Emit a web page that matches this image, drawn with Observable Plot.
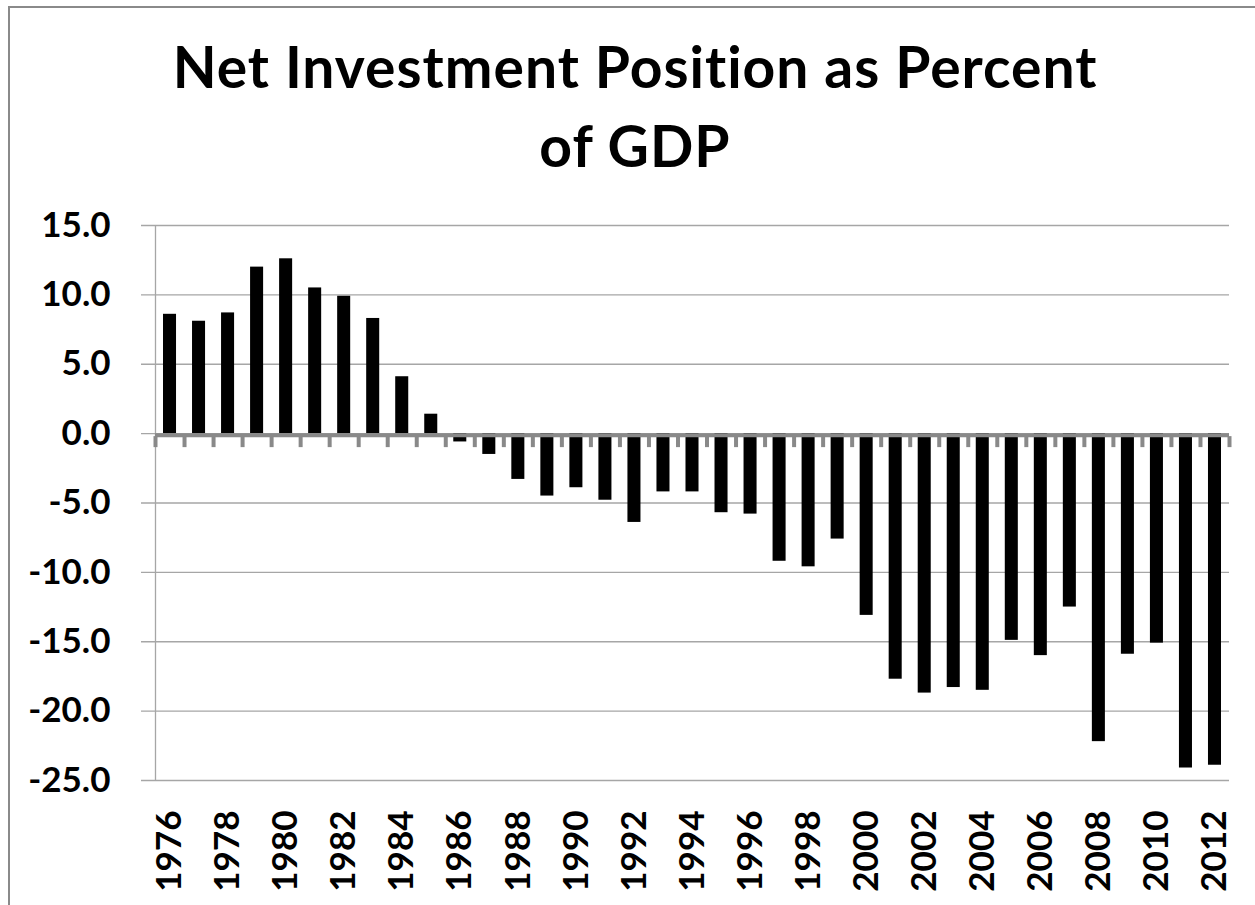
<!DOCTYPE html>
<html><head><meta charset="utf-8">
<script src="https://cdn.jsdelivr.net/npm/d3@7"></script>
<script src="https://cdn.jsdelivr.net/npm/@observablehq/plot@0.6"></script>
<style>
html,body{margin:0;padding:0;background:#fff;overflow:hidden;width:1255px;height:905px;}
#frame{position:absolute;left:8px;top:6px;width:1400px;height:1000px;border-left:2px solid #8a8a8a;border-top:2px solid #8a8a8a;box-sizing:border-box;pointer-events:none;}
#title{height:190px;box-sizing:border-box;padding-top:27px;padding-left:15px;text-align:center;font-family:Lato, sans-serif;font-weight:700;font-size:57px;letter-spacing:1px;line-height:79px;color:#000;white-space:nowrap;}
#chart svg{display:block;}
</style></head><body>
<div id="title">Net Investment Position as Percent<br>of GDP</div>
<div id="chart"></div>
<div id="frame"></div>
<script>
const years = [1976,1977,1978,1979,1980,1981,1982,1983,1984,1985,1986,1987,1988,1989,1990,1991,1992,1993,1994,1995,1996,1997,1998,1999,2000,2001,2002,2003,2004,2005,2006,2007,2008,2009,2010,2011,2012];
const values = [8.6,8.1,8.7,12.0,12.6,10.5,9.9,8.3,4.1,1.4,-0.6,-1.5,-3.3,-4.5,-3.9,-4.8,-6.4,-4.2,-4.2,-5.7,-5.8,-9.2,-9.6,-7.6,-13.1,-17.7,-18.7,-18.3,-18.5,-14.9,-16.0,-12.5,-22.2,-15.9,-15.1,-24.1,-23.9];
const yTicks = [-25,-20,-15,-10,-5,0,5,10,15];
const xTickYears = [1976,1978,1980,1982,1984,1986,1988,1990,1992,1994,1996,1998,2000,2002,2004,2006,2008,2010,2012];

const data = years.map((year, i) => ({year, value: values[i]}));
const bounds = years.map(y => y - 0.5).concat([years[years.length - 1] + 0.5]);

const chart = Plot.plot({
  width: 1255, height: 715,
  marginTop: 35, marginBottom: 125, marginLeft: 155, marginRight: 26,
  style: {fontFamily: "Lato, sans-serif", fontSize: "35px", fontWeight: 700, color: "#000", background: "transparent", overflow: "visible"},
  x: {type: "linear", domain: [years[0] - 0.5, years[years.length - 1] + 0.5]},
  y: {domain: [-25, 15]},
  marks: [
    Plot.ruleY(yTicks, {stroke: "#a6a6a6", strokeWidth: 1.3, insetLeft: -14}),
    Plot.ruleX([years[0] - 0.5], {y1: -25, y2: 15, stroke: "#a6a6a6", strokeWidth: 1.3}),
    Plot.rect(data, {x1: d => d.year - 0.5, x2: d => d.year + 0.5, y1: 0, y2: "value", fill: "#000", insetLeft: 8, insetRight: 8}),
    Plot.ruleY([0], {stroke: "#898989", strokeWidth: 4, dy: 1.5}),
    Plot.ruleX(bounds, {y1: 0, y2: 0, stroke: "#898989", strokeWidth: 4, insetTop: 3, insetBottom: -14}),
    Plot.axisY({ticks: yTicks, tickFormat: d => d.toFixed(1), tickSize: 0, tickPadding: 45, fontSize: 35, fontWeight: 700, label: null}),
    Plot.axisX({ticks: xTickYears, tickFormat: d => String(d), tickRotate: -90, tickSize: 0, tickPadding: 30, fontSize: 35, fontWeight: 700, label: null})
  ]
});
document.getElementById("chart").appendChild(chart);
</script></body></html>
